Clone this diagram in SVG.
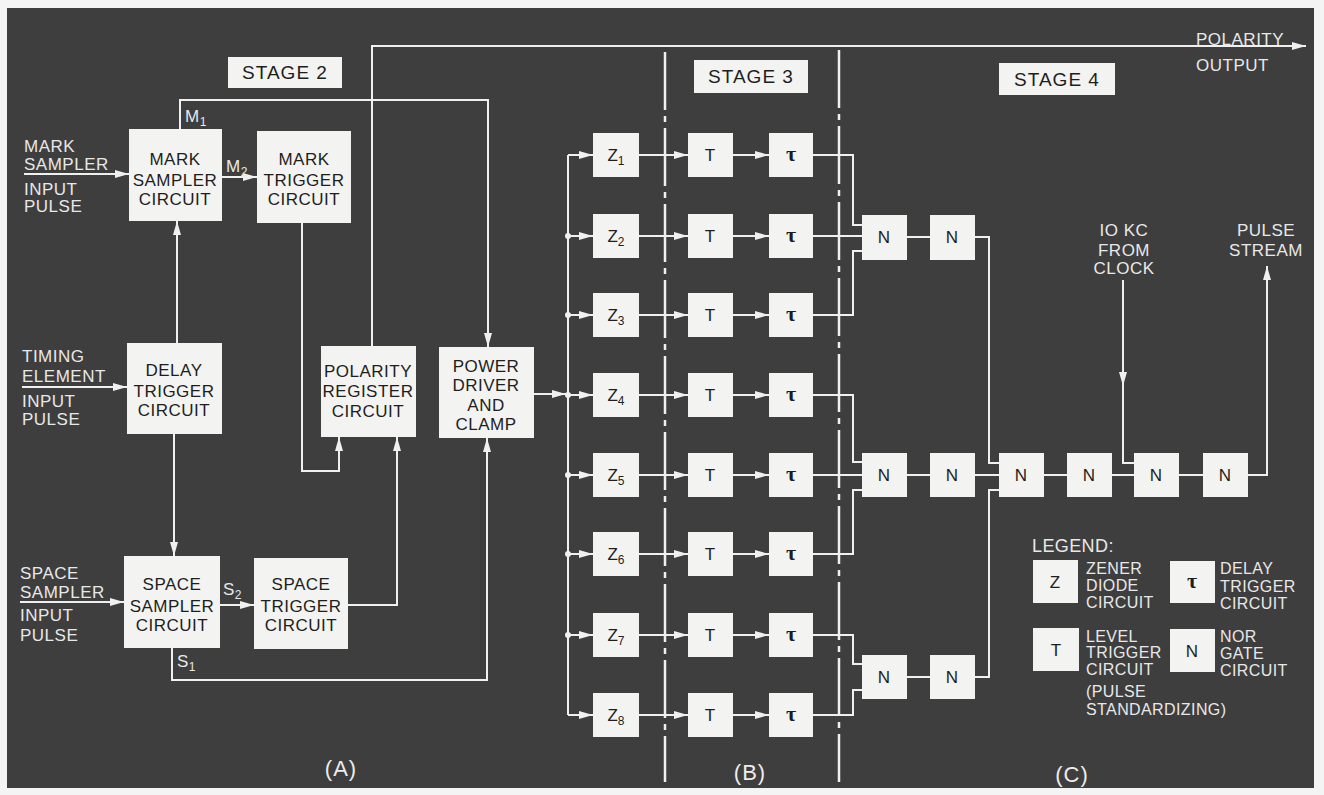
<svg xmlns="http://www.w3.org/2000/svg" width="1324" height="795" viewBox="0 0 1324 795">
<defs>
<style>
.bg{fill:#3e3e3e}
.box{fill:#f3f3f1}
.bt{font-family:"Liberation Sans",Arial,sans-serif;font-size:17px;fill:#1e1e1e;text-anchor:middle;letter-spacing:0.5px}
.gt{font-family:"Liberation Sans",Arial,sans-serif;font-size:17px;fill:#1e1e1e;text-anchor:middle}
.tau{font-family:"Liberation Serif","DejaVu Serif",serif;font-size:22px;fill:#1e1e1e;text-anchor:middle;font-weight:bold}
.wl{font-family:"Liberation Sans",Arial,sans-serif;font-size:17px;fill:#e8e8e8;letter-spacing:0.5px}
.lg{font-family:"Liberation Sans",Arial,sans-serif;font-size:16px;fill:#e8e8e8;letter-spacing:0.4px}
.st{font-family:"Liberation Sans",Arial,sans-serif;font-size:19px;fill:#1e1e1e;text-anchor:middle;letter-spacing:1px}
.cap{font-family:"Liberation Sans",Arial,sans-serif;font-size:22px;fill:#ececec;text-anchor:middle;letter-spacing:1px}
.ln{fill:none;stroke:#f0f0f0;stroke-width:2}
.arr{fill:none;stroke:#f0f0f0;stroke-width:2;marker-end:url(#ah)}
.dd{fill:none;stroke:#f0f0f0;stroke-width:2.5;stroke-dasharray:58 6 6 6}
.dot{fill:#f0f0f0}
</style>
<marker id="ah" markerUnits="userSpaceOnUse" markerWidth="15" markerHeight="10" refX="14" refY="5" orient="auto">
<path d="M0,1 L14,5 L0,9 z" fill="#f0f0f0"/>
</marker>
</defs>
<rect x="0" y="0" width="1324" height="795" fill="#f4f4f4"/>
<rect class="bg" x="7" y="8" width="1307" height="780"/>

<g id="dividers">
<path class="dd" d="M665,52 V782"/>
<path class="dd" d="M839,50 V782"/>
</g>

<g id="connectors">
<path class="arr" d="M24,174 H129"/>
<path class="arr" d="M22,387 H127"/>
<path class="arr" d="M20,602 H124"/>
<path class="arr" d="M180,129 V100 H488 V347"/>
<path class="arr" d="M222,177 H257"/>
<path class="arr" d="M177,343 V221"/>
<path class="arr" d="M174,434 V556"/>
<path class="arr" d="M302,223 V471 H339 V437"/>
<path class="arr" d="M348,605 H397 V437"/>
<path class="arr" d="M220,605 H254"/>
<path class="arr" d="M172,648 V680 H487 V438"/>
<path class="arr" d="M372,346 V46 H1306"/>
<path class="arr" d="M534,394 H566"/>
<path class="ln" d="M568,155 V715"/>
<circle class="dot" cx="568" cy="236" r="3"/>
<circle class="dot" cx="568" cy="315" r="3"/>
<circle class="dot" cx="568" cy="395" r="3"/>
<circle class="dot" cx="568" cy="475" r="3"/>
<circle class="dot" cx="568" cy="554" r="3"/>
<circle class="dot" cx="568" cy="635" r="3"/>
<path class="arr" d="M568,155 H593"/>
<path class="arr" d="M568,236 H593"/>
<path class="arr" d="M568,315 H593"/>
<path class="arr" d="M568,395 H593"/>
<path class="arr" d="M568,475 H593"/>
<path class="arr" d="M568,554 H593"/>
<path class="arr" d="M568,635 H593"/>
<path class="arr" d="M568,715 H593"/>
<path class="arr" d="M639,155 H688"/>
<path class="arr" d="M639,236 H688"/>
<path class="arr" d="M639,315 H688"/>
<path class="arr" d="M639,395 H688"/>
<path class="arr" d="M639,475 H688"/>
<path class="arr" d="M639,554 H688"/>
<path class="arr" d="M639,635 H688"/>
<path class="arr" d="M639,715 H688"/>
<path class="arr" d="M733,155 H769"/>
<path class="arr" d="M733,236 H769"/>
<path class="arr" d="M733,315 H769"/>
<path class="arr" d="M733,395 H769"/>
<path class="arr" d="M733,475 H769"/>
<path class="arr" d="M733,554 H769"/>
<path class="arr" d="M733,635 H769"/>
<path class="arr" d="M733,715 H769"/>
<path class="ln" d="M813,155 H853 V225 H862"/>
<path class="ln" d="M813,236 H862"/>
<path class="ln" d="M813,315 H853 V251 H862"/>
<path class="ln" d="M813,395 H853 V462 H862"/>
<path class="ln" d="M813,475 H862"/>
<path class="ln" d="M813,554 H853 V490 H862"/>
<path class="ln" d="M813,635 H853 V664 H862"/>
<path class="ln" d="M813,715 H853 V690 H862"/>
<path class="ln" d="M907,237 H930"/>
<path class="ln" d="M975,237 H989 V463 H999"/>
<path class="ln" d="M907,475 H930"/>
<path class="ln" d="M975,475 H999"/>
<path class="ln" d="M1044,475 H1067"/>
<path class="ln" d="M1112,475 H1134"/>
<path class="ln" d="M1179,475 H1203"/>
<path class="ln" d="M907,677 H930"/>
<path class="ln" d="M975,677 H989 V490 H999"/>
<path class="arr" d="M1123,280 V386"/>
<path class="ln" d="M1123,380 V463 H1134"/>
<path class="arr" d="M1248,475 H1267 V266"/>
</g>

<g id="stage2-label"><rect class="box" x="228" y="57" width="114" height="31"/><text class="st" x="285" y="79">STAGE 2</text></g>
<g id="stage3-label"><rect class="box" x="694" y="60" width="114" height="33"/><text class="st" x="751" y="83">STAGE 3</text></g>
<g id="stage4-label"><rect class="box" x="999" y="63" width="116" height="32"/><text class="st" x="1057" y="86">STAGE 4</text></g>

<g id="input-mark"><text class="wl" x="24" y="152">MARK</text><text class="wl" x="24" y="170">SAMPLER</text><text class="wl" x="24" y="195">INPUT</text><text class="wl" x="24" y="212">PULSE</text></g>
<g id="input-timing"><text class="wl" x="22" y="362">TIMING</text><text class="wl" x="22" y="382">ELEMENT</text><text class="wl" x="22" y="407">INPUT</text><text class="wl" x="22" y="425">PULSE</text></g>
<g id="input-space"><text class="wl" x="20" y="579">SPACE</text><text class="wl" x="20" y="598">SAMPLER</text><text class="wl" x="20" y="621">INPUT</text><text class="wl" x="20" y="641">PULSE</text></g>

<g id="mark-sampler"><rect class="box" x="129" y="129" width="93" height="92"/><text class="bt" x="175" y="165">MARK</text><text class="bt" x="175" y="186">SAMPLER</text><text class="bt" x="175" y="205">CIRCUIT</text></g>
<g id="mark-trigger"><rect class="box" x="257" y="131" width="94" height="92"/><text class="bt" x="304" y="165">MARK</text><text class="bt" x="304" y="186">TRIGGER</text><text class="bt" x="304" y="205">CIRCUIT</text></g>
<g id="delay-trigger"><rect class="box" x="127" y="343" width="95" height="91"/><text class="bt" x="174" y="376">DELAY</text><text class="bt" x="174" y="397">TRIGGER</text><text class="bt" x="174" y="416">CIRCUIT</text></g>
<g id="polarity-register"><rect class="box" x="321" y="346" width="95" height="91"/><text class="bt" x="368" y="377">POLARITY</text><text class="bt" x="368" y="397">REGISTER</text><text class="bt" x="368" y="417">CIRCUIT</text></g>
<g id="power-driver"><rect class="box" x="439" y="347" width="95" height="91"/><text class="bt" x="486" y="372">POWER</text><text class="bt" x="486" y="391">DRIVER</text><text class="bt" x="486" y="411">AND</text><text class="bt" x="486" y="430">CLAMP</text></g>
<g id="space-sampler"><rect class="box" x="124" y="556" width="96" height="92"/><text class="bt" x="172" y="590">SPACE</text><text class="bt" x="172" y="612">SAMPLER</text><text class="bt" x="172" y="631">CIRCUIT</text></g>
<g id="space-trigger"><rect class="box" x="254" y="558" width="94" height="91"/><text class="bt" x="301" y="590">SPACE</text><text class="bt" x="301" y="612">TRIGGER</text><text class="bt" x="301" y="631">CIRCUIT</text></g>

<g id="signal-labels">
<text class="wl" x="185" y="122">M<tspan font-size="12" dy="4">1</tspan></text>
<text class="wl" x="226" y="172">M<tspan font-size="12" dy="4">2</tspan></text>
<text class="wl" x="223" y="595">S<tspan font-size="12" dy="4">2</tspan></text>
<text class="wl" x="177" y="667">S<tspan font-size="12" dy="4">1</tspan></text>
</g>

<g id="z1"><rect class="box" x="593" y="133" width="46" height="44"/><text class="gt" x="616" y="161">Z<tspan font-size="12" dy="4">1</tspan></text></g>
<g id="z2"><rect class="box" x="593" y="214" width="46" height="44"/><text class="gt" x="616" y="242">Z<tspan font-size="12" dy="4">2</tspan></text></g>
<g id="z3"><rect class="box" x="593" y="293" width="46" height="44"/><text class="gt" x="616" y="321">Z<tspan font-size="12" dy="4">3</tspan></text></g>
<g id="z4"><rect class="box" x="593" y="373" width="46" height="44"/><text class="gt" x="616" y="401">Z<tspan font-size="12" dy="4">4</tspan></text></g>
<g id="z5"><rect class="box" x="593" y="453" width="46" height="44"/><text class="gt" x="616" y="481">Z<tspan font-size="12" dy="4">5</tspan></text></g>
<g id="z6"><rect class="box" x="593" y="532" width="46" height="44"/><text class="gt" x="616" y="560">Z<tspan font-size="12" dy="4">6</tspan></text></g>
<g id="z7"><rect class="box" x="593" y="613" width="46" height="44"/><text class="gt" x="616" y="641">Z<tspan font-size="12" dy="4">7</tspan></text></g>
<g id="z8"><rect class="box" x="593" y="693" width="46" height="44"/><text class="gt" x="616" y="721">Z<tspan font-size="12" dy="4">8</tspan></text></g>

<g id="t1"><rect class="box" x="688" y="133" width="45" height="44"/><text class="gt" x="710" y="161">T</text></g>
<g id="t2"><rect class="box" x="688" y="214" width="45" height="44"/><text class="gt" x="710" y="242">T</text></g>
<g id="t3"><rect class="box" x="688" y="293" width="45" height="44"/><text class="gt" x="710" y="321">T</text></g>
<g id="t4"><rect class="box" x="688" y="373" width="45" height="44"/><text class="gt" x="710" y="401">T</text></g>
<g id="t5"><rect class="box" x="688" y="453" width="45" height="44"/><text class="gt" x="710" y="481">T</text></g>
<g id="t6"><rect class="box" x="688" y="532" width="45" height="44"/><text class="gt" x="710" y="560">T</text></g>
<g id="t7"><rect class="box" x="688" y="613" width="45" height="44"/><text class="gt" x="710" y="641">T</text></g>
<g id="t8"><rect class="box" x="688" y="693" width="45" height="44"/><text class="gt" x="710" y="721">T</text></g>

<g id="tau1"><rect class="box" x="769" y="133" width="44" height="44"/><text class="tau" x="791" y="161">τ</text></g>
<g id="tau2"><rect class="box" x="769" y="214" width="44" height="44"/><text class="tau" x="791" y="242">τ</text></g>
<g id="tau3"><rect class="box" x="769" y="293" width="44" height="44"/><text class="tau" x="791" y="321">τ</text></g>
<g id="tau4"><rect class="box" x="769" y="373" width="44" height="44"/><text class="tau" x="791" y="401">τ</text></g>
<g id="tau5"><rect class="box" x="769" y="453" width="44" height="44"/><text class="tau" x="791" y="481">τ</text></g>
<g id="tau6"><rect class="box" x="769" y="532" width="44" height="44"/><text class="tau" x="791" y="560">τ</text></g>
<g id="tau7"><rect class="box" x="769" y="613" width="44" height="44"/><text class="tau" x="791" y="641">τ</text></g>
<g id="tau8"><rect class="box" x="769" y="693" width="44" height="44"/><text class="tau" x="791" y="721">τ</text></g>

<g id="n1"><rect class="box" x="862" y="215" width="45" height="45"/><text class="gt" x="884" y="243">N</text></g>
<g id="n2"><rect class="box" x="930" y="215" width="45" height="45"/><text class="gt" x="952" y="243">N</text></g>
<g id="n3"><rect class="box" x="862" y="453" width="45" height="44"/><text class="gt" x="884" y="481">N</text></g>
<g id="n4"><rect class="box" x="930" y="453" width="45" height="44"/><text class="gt" x="952" y="481">N</text></g>
<g id="n5"><rect class="box" x="999" y="453" width="45" height="44"/><text class="gt" x="1021" y="481">N</text></g>
<g id="n6"><rect class="box" x="1067" y="453" width="45" height="44"/><text class="gt" x="1089" y="481">N</text></g>
<g id="n7"><rect class="box" x="1134" y="453" width="45" height="44"/><text class="gt" x="1156" y="481">N</text></g>
<g id="n8"><rect class="box" x="1203" y="453" width="45" height="44"/><text class="gt" x="1225" y="481">N</text></g>
<g id="n9"><rect class="box" x="862" y="655" width="45" height="44"/><text class="gt" x="884" y="683">N</text></g>
<g id="n10"><rect class="box" x="930" y="655" width="45" height="44"/><text class="gt" x="952" y="683">N</text></g>

<g id="outputs">
<text class="wl" x="1196" y="45">POLARITY</text>
<text class="wl" x="1196" y="71">OUTPUT</text>
<text class="wl" x="1124" y="236" text-anchor="middle">IO KC</text>
<text class="wl" x="1124" y="256" text-anchor="middle">FROM</text>
<text class="wl" x="1124" y="274" text-anchor="middle">CLOCK</text>
<text class="wl" x="1266" y="236" text-anchor="middle">PULSE</text>
<text class="wl" x="1266" y="256" text-anchor="middle">STREAM</text>
</g>

<g id="legend">
<text class="lg" x="1032" y="552" style="font-size:18px">LEGEND:</text>
<rect class="box" x="1033" y="560" width="45" height="43"/><text class="gt" x="1055" y="588">Z</text>
<text class="lg" x="1086" y="574">ZENER</text><text class="lg" x="1086" y="591">DIODE</text><text class="lg" x="1086" y="608">CIRCUIT</text>
<rect class="box" x="1170" y="561" width="45" height="42"/><text class="tau" x="1192" y="588">τ</text>
<text class="lg" x="1220" y="574">DELAY</text><text class="lg" x="1220" y="592">TRIGGER</text><text class="lg" x="1220" y="609">CIRCUIT</text>
<rect class="box" x="1033" y="628" width="46" height="43"/><text class="gt" x="1056" y="656">T</text>
<text class="lg" x="1086" y="642">LEVEL</text><text class="lg" x="1086" y="658">TRIGGER</text><text class="lg" x="1086" y="675">CIRCUIT</text><text class="lg" x="1086" y="697">(PULSE</text><text class="lg" x="1086" y="715">STANDARDIZING)</text>
<rect class="box" x="1170" y="629" width="45" height="43"/><text class="gt" x="1192" y="657">N</text>
<text class="lg" x="1220" y="642">NOR</text><text class="lg" x="1220" y="659">GATE</text><text class="lg" x="1220" y="676">CIRCUIT</text>
</g>

<g id="captions">
<text class="cap" x="341" y="776">(A)</text>
<text class="cap" x="750" y="780">(B)</text>
<text class="cap" x="1072" y="782">(C)</text>
</g>
</svg>
